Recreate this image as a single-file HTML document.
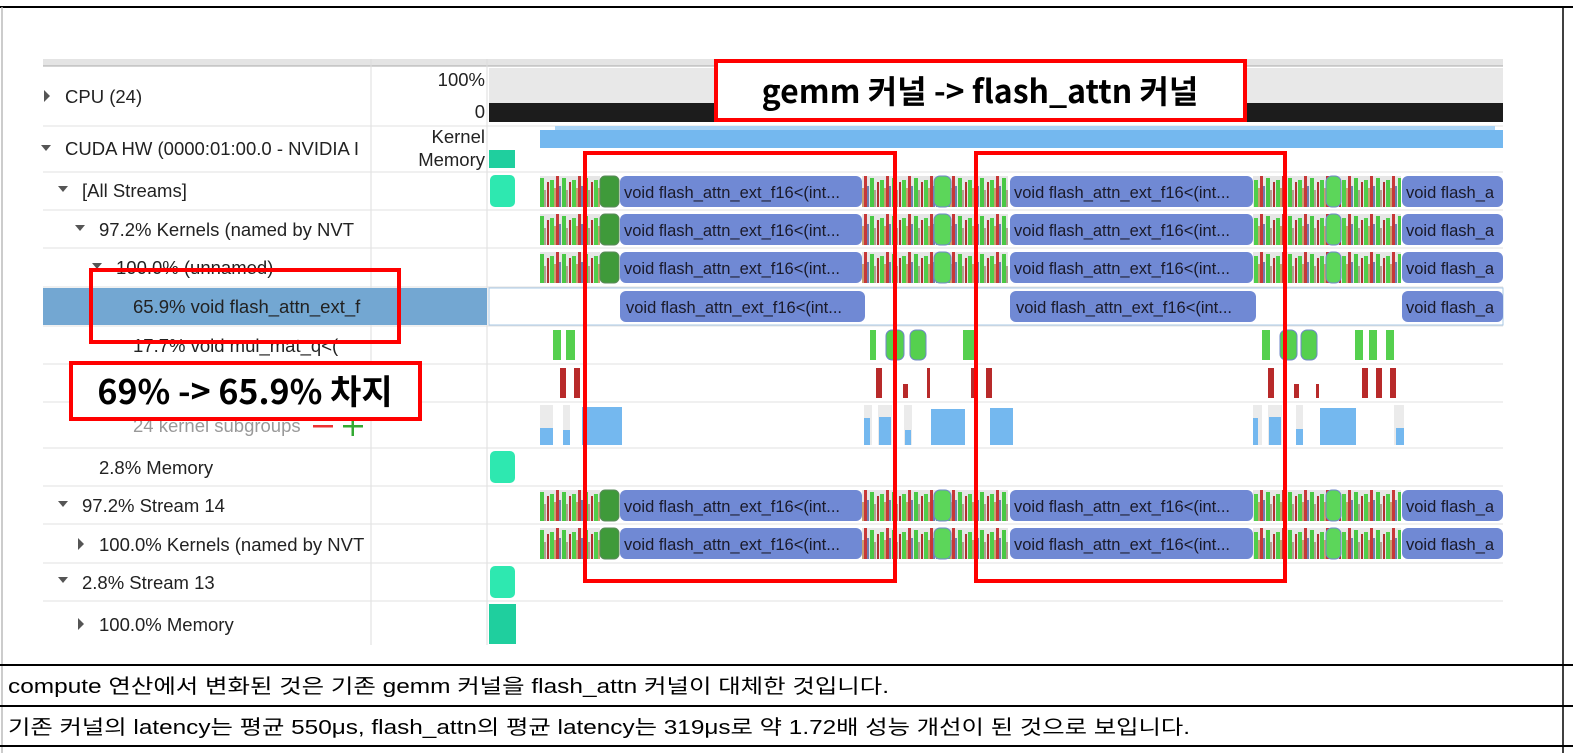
<!DOCTYPE html>
<html><head><meta charset="utf-8"><style>
body{margin:0;background:#fff;width:1573px;height:753px;overflow:hidden}
svg{display:block}
.l{font-family:"Liberation Sans","Noto Sans CJK KR",sans-serif;font-size:18.5px;fill:#222}
.k{font-family:"Liberation Sans",sans-serif;font-size:16.5px;fill:#1a1a2a}
.b{font-family:"Noto Sans CJK KR","Liberation Sans",sans-serif;font-weight:bold;fill:#000}
.t{font-family:"Liberation Sans","Noto Sans CJK KR",sans-serif;font-size:20px;fill:#000}
</style></head><body>
<svg width="1573" height="753" viewBox="0 0 1573 753">
<defs>
<pattern id="st" width="22" height="31" patternUnits="userSpaceOnUse">
<rect width="22" height="31" fill="#e6e6e6"/>
<rect x="0" y="4" width="4" height="27" fill="#4fcf4a"/>
<rect x="4" y="12" width="2" height="19" fill="#c9a070"/>
<rect x="6" y="0" width="3" height="31" fill="#c73838"/>
<rect x="9" y="10" width="2" height="21" fill="#7080b0"/>
<rect x="12" y="2" width="4" height="29" fill="#49c845"/>
<rect x="16" y="14" width="2" height="17" fill="#b0a090"/>
<rect x="19" y="6" width="2" height="25" fill="#b03030"/>
</pattern>
<g id="kr">
<rect x="540" y="0" width="60" height="31" fill="url(#st)"/>
<rect x="862" y="0" width="146" height="31" fill="url(#st)"/>
<rect x="1253" y="0" width="148" height="31" fill="url(#st)"/>
<rect x="600" y="0" width="19" height="31" rx="5" fill="#3f9a3a" stroke="#5a8a5a"/>
<rect x="934" y="0" width="17" height="31" rx="6" fill="#5cd65a" stroke="#6f86c9"/>
<rect x="1326" y="0" width="15" height="31" rx="6" fill="#5cd65a" stroke="#6f86c9"/>
<rect x="620" y="0" width="242" height="31" rx="6" fill="#7089d4"/>
<rect x="1010" y="0" width="243" height="31" rx="6" fill="#7089d4"/>
<rect x="1402" y="0" width="101" height="31" rx="6" fill="#7089d4"/>
</g>
</defs>
<line x1="0" y1="7" x2="1573" y2="7" stroke="#000" stroke-width="2"/>
<line x1="2" y1="7" x2="2" y2="753" stroke="#bbb" stroke-width="1.5"/>
<line x1="1563" y1="7" x2="1563" y2="753" stroke="#000" stroke-width="1.5"/>
<line x1="0" y1="665" x2="1573" y2="665" stroke="#000" stroke-width="2"/>
<line x1="0" y1="706" x2="1573" y2="706" stroke="#000" stroke-width="2"/>
<line x1="0" y1="746" x2="1573" y2="746" stroke="#000" stroke-width="2"/>
<text class="t" x="8" y="693" textLength="881" lengthAdjust="spacingAndGlyphs">compute 연산에서 변화된 것은 기존 gemm 커널을 flash_attn 커널이 대체한 것입니다.</text>
<text class="t" x="8" y="734" textLength="1182" lengthAdjust="spacingAndGlyphs">기존 커널의 latency는 평균 550μs, flash_attn의 평균 latency는 319μs로 약 1.72배 성능 개선이 된 것으로 보입니다.</text>

<rect x="43" y="59" width="1460" height="7" fill="#e4e4e4"/>
<line x1="43" y1="66" x2="1503" y2="66" stroke="#aaa"/>
<line x1="371" y1="59" x2="371" y2="645" stroke="#ddd"/>
<line x1="487" y1="59" x2="487" y2="645" stroke="#ddd"/>
<g stroke="#e2e2e2">
<line x1="43" y1="126" x2="1503" y2="126"/><line x1="43" y1="172" x2="1503" y2="172"/>
<line x1="43" y1="210" x2="1503" y2="210"/><line x1="43" y1="248" x2="1503" y2="248"/>
<line x1="43" y1="287" x2="1503" y2="287"/><line x1="43" y1="326" x2="1503" y2="326"/>
<line x1="43" y1="364" x2="1503" y2="364"/><line x1="43" y1="402" x2="1503" y2="402"/>
<line x1="43" y1="448" x2="1503" y2="448"/><line x1="43" y1="486" x2="1503" y2="486"/>
<line x1="43" y1="524" x2="1503" y2="524"/><line x1="43" y1="563" x2="1503" y2="563"/>
<line x1="43" y1="601" x2="1503" y2="601"/>
</g>
<rect x="489" y="68" width="1014" height="35" fill="#e8e8e8"/>
<rect x="489" y="103" width="1014" height="19" fill="#1c1c1c"/>
<text class="l" x="485" y="86" text-anchor="end" font-size="16.5">100%</text>
<text class="l" x="485" y="118" text-anchor="end" font-size="16.5">0</text>
<path d="M44 90 L50 96 L44 102Z" fill="#555"/>
<text class="l" x="65" y="103">CPU (24)</text>
<rect x="540" y="130" width="963" height="18" fill="#74b8ef"/>
<rect x="555" y="126" width="940" height="4" fill="#a9d3f5"/>
<rect x="489" y="150" width="26" height="18" fill="#1fcf9e"/>
<text class="l" x="485" y="143" text-anchor="end" font-size="16.5">Kernel</text>
<text class="l" x="485" y="166" text-anchor="end" font-size="16.5">Memory</text>
<path d="M41 145 L51 145 L46 151Z" fill="#555"/>
<text class="l" x="65" y="155">CUDA HW (0000:01:00.0 - NVIDIA I</text>
<path d="M58 186 L68 186 L63 192Z" fill="#555"/><text class="l" x="82" y="197">[All Streams]</text>
<path d="M75 225 L85 225 L80 231Z" fill="#555"/><text class="l" x="99" y="236">97.2% Kernels (named by NVT</text>
<path d="M92 263 L102 263 L97 269Z" fill="#555"/><text class="l" x="116" y="274">100.0% (unnamed)</text>
<rect x="43" y="288" width="444" height="37" fill="#73a7d2"/>
<text class="l" x="133" y="313">65.9% void flash_attn_ext_f</text>
<text class="l" x="133" y="352">17.7% void mul_mat_q&lt;(</text>
<text class="l" x="133" y="432" style="fill:#999">24 kernel subgroups</text>
<rect x="313" y="425" width="20" height="2.5" fill="#e33"/>
<rect x="343" y="425" width="20" height="2.5" fill="#3a3"/><rect x="351.5" y="417" width="2.5" height="19" fill="#3a3"/>
<text class="l" x="99" y="474">2.8% Memory</text>
<path d="M58 501 L68 501 L63 507Z" fill="#555"/><text class="l" x="82" y="512">97.2% Stream 14</text>
<path d="M78 538 L84 544 L78 550Z" fill="#555"/><text class="l" x="99" y="551">100.0% Kernels (named by NVT</text>
<path d="M58 577 L68 577 L63 583Z" fill="#555"/><text class="l" x="82" y="589">2.8% Stream 13</text>
<path d="M78 618 L84 624 L78 630Z" fill="#555"/><text class="l" x="99" y="631">100.0% Memory</text>
<rect x="490" y="175" width="25" height="32" rx="5" fill="#2ee8b0"/>
<rect x="490" y="451" width="25" height="32" rx="5" fill="#2ee8b0"/>
<rect x="490" y="566" width="25" height="32" rx="5" fill="#2ee8b0"/>
<rect x="489" y="604" width="27" height="40" fill="#1fcf9e"/>
<use href="#kr" y="176"/><use href="#kr" y="214"/><use href="#kr" y="252"/>
<use href="#kr" y="490"/><use href="#kr" y="528"/>
<g class="k">
<text x="624" y="198">void flash_attn_ext_f16&lt;(int...</text><text x="1014" y="198">void flash_attn_ext_f16&lt;(int...</text><text x="1406" y="198">void flash_a</text>
<text x="624" y="236">void flash_attn_ext_f16&lt;(int...</text><text x="1014" y="236">void flash_attn_ext_f16&lt;(int...</text><text x="1406" y="236">void flash_a</text>
<text x="624" y="274">void flash_attn_ext_f16&lt;(int...</text><text x="1014" y="274">void flash_attn_ext_f16&lt;(int...</text><text x="1406" y="274">void flash_a</text>
<text x="624" y="512">void flash_attn_ext_f16&lt;(int...</text><text x="1014" y="512">void flash_attn_ext_f16&lt;(int...</text><text x="1406" y="512">void flash_a</text>
<text x="624" y="550">void flash_attn_ext_f16&lt;(int...</text><text x="1014" y="550">void flash_attn_ext_f16&lt;(int...</text><text x="1406" y="550">void flash_a</text>
</g>
<rect x="489" y="288" width="1014" height="37" fill="#fff" stroke="#a8c8e6"/>
<rect x="620" y="291" width="245" height="31" rx="6" fill="#7089d4"/>
<rect x="1010" y="291" width="246" height="31" rx="6" fill="#7089d4"/>
<rect x="1402" y="291" width="101" height="31" rx="6" fill="#7089d4"/>
<g class="k"><text x="626" y="313">void flash_attn_ext_f16&lt;(int...</text><text x="1016" y="313">void flash_attn_ext_f16&lt;(int...</text><text x="1406" y="313">void flash_a</text></g>
<g fill="#55d04e">
<rect x="553" y="330" width="8" height="30"/><rect x="566" y="330" width="9" height="30"/>
<rect x="870" y="330" width="6" height="30"/><rect x="963" y="330" width="12" height="30"/>
<rect x="1262" y="330" width="8" height="30"/><rect x="1355" y="330" width="8" height="30"/>
<rect x="1369" y="330" width="8" height="30"/><rect x="1386" y="330" width="8" height="30"/>
<rect x="886" y="330" width="18" height="30" rx="6" stroke="#6f86c9"/><rect x="910" y="330" width="16" height="30" rx="6" stroke="#6f86c9"/>
<rect x="1280" y="330" width="17" height="30" rx="6" stroke="#6f86c9"/><rect x="1301" y="330" width="16" height="30" rx="6" stroke="#6f86c9"/>
</g>
<g fill="#b82a2a">
<rect x="560" y="368" width="6" height="30"/><rect x="574" y="368" width="6" height="30"/>
<rect x="876" y="368" width="6" height="30"/><rect x="903" y="384" width="5" height="14"/>
<rect x="927" y="368" width="3" height="30"/><rect x="971" y="368" width="6" height="30"/>
<rect x="986" y="368" width="6" height="30"/><rect x="1268" y="368" width="6" height="30"/>
<rect x="1294" y="384" width="5" height="14"/><rect x="1316" y="384" width="3" height="14"/>
<rect x="1362" y="368" width="6" height="30"/><rect x="1376" y="368" width="6" height="30"/>
<rect x="1390" y="368" width="6" height="30"/>
</g>
<g fill="#ebebeb">
<rect x="540" y="405" width="13" height="40"/><rect x="563" y="405" width="7" height="40"/>
<rect x="864" y="405" width="8" height="40"/><rect x="878" y="405" width="14" height="40"/>
<rect x="904" y="405" width="8" height="40"/><rect x="1253" y="405" width="9" height="40"/>
<rect x="1268" y="405" width="14" height="40"/><rect x="1296" y="405" width="7" height="40"/>
<rect x="1394" y="405" width="10" height="40"/>
</g>
<g fill="#74b8ef">
<rect x="540" y="428" width="13" height="17"/><rect x="563" y="430" width="7" height="15"/>
<rect x="582" y="407" width="40" height="38"/><rect x="864" y="418" width="6" height="27"/>
<rect x="879" y="417" width="12" height="28"/><rect x="905" y="430" width="6" height="15"/>
<rect x="931" y="409" width="34" height="36"/><rect x="990" y="408" width="23" height="37"/>
<rect x="1253" y="418" width="5" height="27"/><rect x="1269" y="417" width="12" height="28"/>
<rect x="1296" y="429" width="7" height="16"/><rect x="1320" y="408" width="36" height="37"/>
<rect x="1396" y="428" width="8" height="17"/>
</g>
<rect x="716" y="61" width="529" height="59" fill="#fff" stroke="#f00" stroke-width="4"/>
<text class="b" x="980" y="103" text-anchor="middle" font-size="32">gemm 커널 -&gt; flash_attn 커널</text>
<rect x="585" y="153" width="310" height="428" fill="none" stroke="#f00" stroke-width="4"/>
<rect x="976" y="153" width="309" height="428" fill="none" stroke="#f00" stroke-width="4"/>
<rect x="91" y="270" width="308" height="72" fill="none" stroke="#f00" stroke-width="4"/>
<rect x="71" y="363" width="349" height="56" fill="#fff" stroke="#f00" stroke-width="4"/>
<text class="b" x="245" y="404" text-anchor="middle" font-size="34">69% -&gt; 65.9% 차지</text>
</svg>
</body></html>
